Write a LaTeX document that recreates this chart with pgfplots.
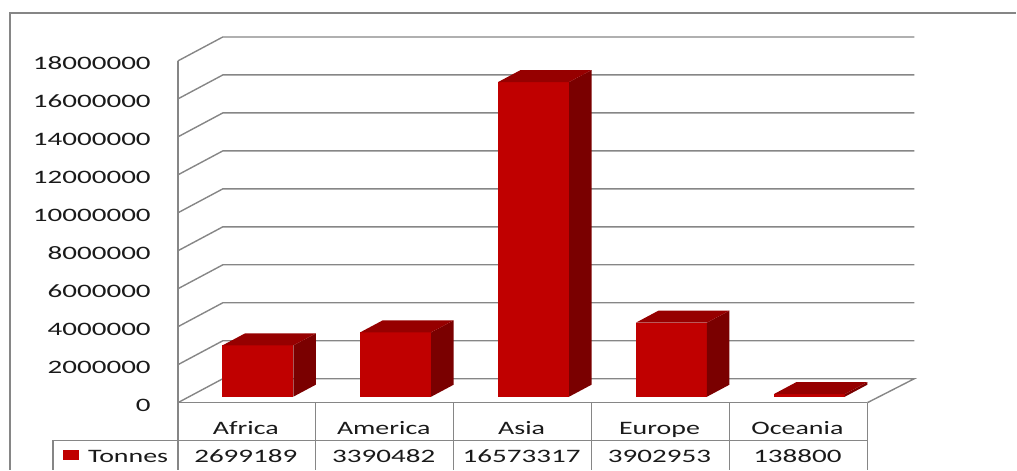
\documentclass[border=0pt]{standalone}
\usepackage{pgfplots}
\usepackage{pgfplotstable}
\pgfplotsset{compat=1.18}
\usepackage{fontspec}
\setmainfont[FakeStretch=1.47]{Carlito}
\newfontfamily\numfont[FakeStretch=1.53]{Carlito}
\definecolor{barfront}{HTML}{C00000}
\definecolor{bartop}{HTML}{960000}
\definecolor{barside}{HTML}{7A0000}
\definecolor{gridgray}{HTML}{868686}
\definecolor{txt}{HTML}{1A1A1A}

\pgfplotstableread{
cat v
Africa 2699189
America 3390482
Asia 16573317
Europe 3902953
Oceania 138800
}\data

\tikzset{tbl/.style={font=\fontsize{19}{22}\selectfont, text=txt, anchor=base, inner sep=0pt},
         tbln/.style={font=\numfont\fontsize{19}{22}\selectfont, text=txt, anchor=base, inner sep=0pt}}

\begin{document}
\begin{tikzpicture}
\begin{axis}[
  scale only axis, width=1017pt, height=470pt,
  xmin=0, xmax=1017,
  ymin=-3526316, ymax=21210526,
  axis line style={draw=none},
  tick style={draw=none},
  major tick length=0pt,
  xtick=\empty,
  ytick={0,2000000,4000000,6000000,8000000,10000000,12000000,14000000,16000000,18000000},
  scaled y ticks=false,
  yticklabel style={/pgf/number format/fixed,/pgf/number format/1000 sep={},
    /pgf/number format/assume math mode=true,
    anchor=east, inner sep=0pt, xshift=151pt, yshift=-2.5pt,
    font=\numfont\fontsize{19}{22}\selectfont, text=txt},
  clip=false,
]
% outer frame
\addplot[gridgray, line width=1.5pt] coordinates {(10,-3526316) (10,20526316) (1017,20526316)};
% side wall diagonals + back wall gridlines
\addplot[gridgray, line width=1.4pt] coordinates {(178,0) (223,1263158) (915,1263158) (868,0)};
\addplot[gridgray, line width=1.4pt] coordinates {(178,2000000) (223,3263158) (915,3263158)};
\addplot[gridgray, line width=1.4pt] coordinates {(178,4000000) (223,5263158) (915,5263158)};
\addplot[gridgray, line width=1.4pt] coordinates {(178,6000000) (223,7263158) (915,7263158)};
\addplot[gridgray, line width=1.4pt] coordinates {(178,8000000) (223,9263158) (915,9263158)};
\addplot[gridgray, line width=1.4pt] coordinates {(178,10000000) (223,11263158) (915,11263158)};
\addplot[gridgray, line width=1.4pt] coordinates {(178,12000000) (223,13263158) (915,13263158)};
\addplot[gridgray, line width=1.4pt] coordinates {(178,14000000) (223,15263158) (915,15263158)};
\addplot[gridgray, line width=1.4pt] coordinates {(178,16000000) (223,17263158) (915,17263158)};
\addplot[gridgray, line width=1.4pt] coordinates {(178,18000000) (223,19263158) (915,19263158)};
% front vertical axis line
\addplot[gridgray, line width=1.4pt] coordinates {(178,18000000) (178,-3526316)};
% data table lines
\addplot[gridgray, line width=1.4pt] coordinates {(178,0) (868,0)};
\addplot[gridgray, line width=1.4pt] coordinates {(53,-3526316) (53,-2000000) (868,-2000000)};
\addplot[gridgray, line width=1.4pt] coordinates {(316,0) (316,-3526316)};
\addplot[gridgray, line width=1.4pt] coordinates {(454,0) (454,-3526316)};
\addplot[gridgray, line width=1.4pt] coordinates {(592,0) (592,-3526316)};
\addplot[gridgray, line width=1.4pt] coordinates {(730,0) (730,-3526316)};
\addplot[gridgray, line width=1.4pt] coordinates {(868,0) (868,-3526316)};

% 3D bars
\pgfplotsinvokeforeach{0,...,4}{
  \pgfplotstablegetelem{#1}{v}\of\data
  \let\val\pgfplotsretval
  \begingroup
  \pgfkeys{/pgf/fpu=true,/pgf/fpu/output format=fixed}
  \pgfmathparse{315789+\val}\xdef\ya{\pgfmathresult}
  \pgfmathparse{315789+631579+\val}\xdef\yb{\pgfmathresult}
  \endgroup
  \pgfmathsetmacro\xa{178+138*#1+44.5}
  \pgfmathsetmacro\xb{178+138*#1+115.5}
  \pgfmathsetmacro\xc{178+138*#1+67}
  \pgfmathsetmacro\xd{178+138*#1+138}
  \edef\temp{%
    \noexpand\addplot[fill=barfront, draw=none] coordinates {(\xa,315789) (\xb,315789) (\xb,\ya) (\xa,\ya)} -- cycle;
    \noexpand\addplot[fill=barside, draw=none] coordinates {(\xb,315789) (\xd,947368) (\xd,\yb) (\xb,\ya)} -- cycle;
    \noexpand\addplot[fill=bartop, draw=none] coordinates {(\xa,\ya) (\xb,\ya) (\xd,\yb) (\xc,\yb)} -- cycle;
  }\temp
}

% data table text
\pgfplotsinvokeforeach{0,...,4}{
  \pgfplotstablegetelem{#1}{cat}\of\data \let\cname\pgfplotsretval
  \pgfplotstablegetelem{#1}{v}\of\data \let\vv\pgfplotsretval
  \pgfmathsetmacro\xm{246+138*#1}
  \edef\temp{%
    \noexpand\node[tbl] at (axis cs:\xm,-1684211) {\cname};
    \noexpand\node[tbln] at (axis cs:\xm,-3157895) {\vv};
  }\temp
}
\node[anchor=south west, inner sep=0pt] at (axis cs:63,-3052632) {\textcolor{barfront}{\rule{16pt}{10pt}}};
\node[tbl, anchor=base west] at (axis cs:88,-3157895) {Tonnes};
\end{axis}
\end{tikzpicture}
\end{document}
